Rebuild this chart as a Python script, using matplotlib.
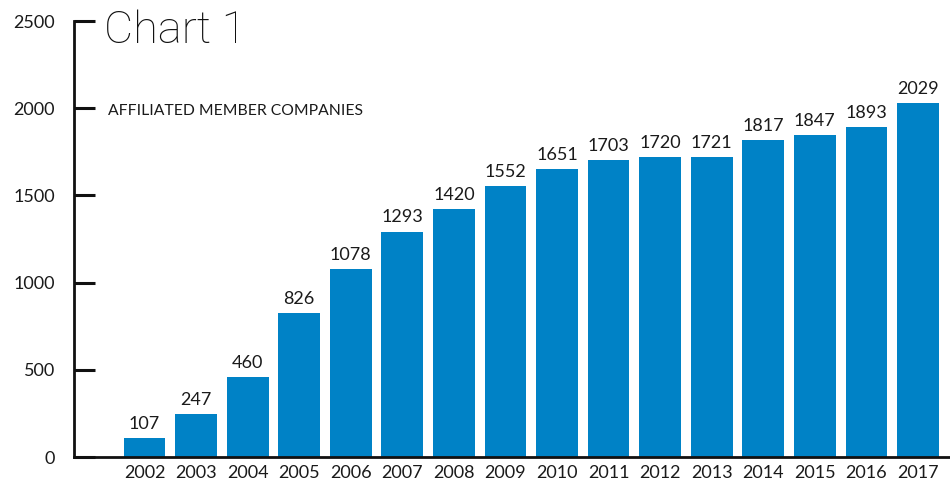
import matplotlib
matplotlib.use("Agg")
import matplotlib.pyplot as plt

years = ["2002", "2003", "2004", "2005", "2006", "2007", "2008", "2009",
         "2010", "2011", "2012", "2013", "2014", "2015", "2016", "2017"]
members = [107, 247, 460, 826, 1078, 1293, 1420, 1552,
           1651, 1703, 1720, 1721, 1817, 1847, 1893, 2029]
yticks = [0, 500, 1000, 1500, 2000, 2500]

plt.rcParams['font.family'] = ['Lato', 'DejaVu Sans']

fig = plt.figure(figsize=(9.5, 4.84), dpi=100)
ax = fig.add_axes([74/950, 1-457/484, 1-74/950, (457-21)/484])

color = "#0082C6"
text_color = "#1a1a1a"
x = list(range(len(years)))
ax.bar(x, members, width=0.81, color=color, zorder=2)
for xi, v in zip(x, members):
    ax.annotate(str(v), (xi, v), xytext=(0, 4.5), textcoords="offset points",
                ha="center", va="bottom", fontsize=13, color=text_color)

ax.set_xlim(-1.367, 15.62)
ax.set_ylim(0, 2500)
ax.set_xticks(x)
ax.set_xticklabels(years)
ax.set_yticks(yticks)
ax.set_yticklabels([str(t) for t in yticks])

for s in ["top", "right"]:
    ax.spines[s].set_visible(False)
for s in ["left", "bottom"]:
    ax.spines[s].set_linewidth(2)
    ax.spines[s].set_color("#111111")

ax.tick_params(axis="y", direction="in", length=15, width=2.2, pad=13.7,
               labelsize=13, colors="#111111", labelcolor=text_color)
ax.tick_params(axis="x", length=0, pad=6, labelsize=13, labelcolor=text_color)

fig.text(104/950, 1-31/484, "Chart 1", fontsize=32.5, fontweight="light",
         family=["Roboto", "DejaVu Sans"],
         ha="left", va="center", color="#111111")
fig.text(108/950, 1-111/484, "AFFILIATED MEMBER COMPANIES", fontsize=11.3,
         ha="left", va="center", color=text_color)

fig.savefig("out.png", dpi=100)
